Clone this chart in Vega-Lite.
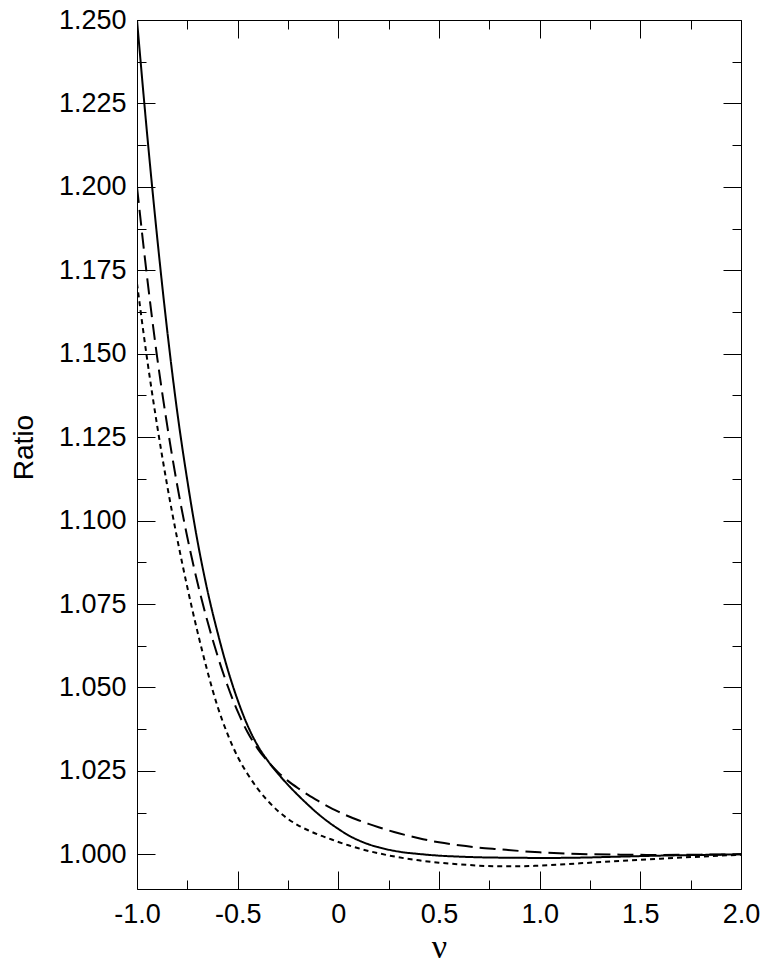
{
  "$schema": "https://vega.github.io/schema/vega-lite/v6.json",
  "width": 604,
  "height": 869,
  "autosize": {"type": "none"},
  "padding": {"left": 137, "top": 20, "right": 19, "bottom": 79},
  "background": "white",
  "config": {
    "view": {"stroke": "black", "strokeWidth": 1},
    "axis": {"grid": false, "domain": false, "tickColor": "black", "tickWidth": 1, "labelFont": "Liberation Sans", "labelFontSize": 27, "labelColor": "black", "titleColor": "black"}
  },
  "datasets": {
    "curves": [
      {"nu": -1.00, "ratio": 1.2500, "series": "A"},
      {"nu": -0.95, "ratio": 1.2160, "series": "A"},
      {"nu": -0.90, "ratio": 1.1850, "series": "A"},
      {"nu": -0.85, "ratio": 1.1570, "series": "A"},
      {"nu": -0.80, "ratio": 1.1325, "series": "A"},
      {"nu": -0.75, "ratio": 1.1120, "series": "A"},
      {"nu": -0.70, "ratio": 1.0940, "series": "A"},
      {"nu": -0.65, "ratio": 1.0790, "series": "A"},
      {"nu": -0.60, "ratio": 1.0665, "series": "A"},
      {"nu": -0.55, "ratio": 1.0555, "series": "A"},
      {"nu": -0.50, "ratio": 1.0462, "series": "A"},
      {"nu": -0.45, "ratio": 1.0385, "series": "A"},
      {"nu": -0.40, "ratio": 1.0325, "series": "A"},
      {"nu": -0.35, "ratio": 1.0280, "series": "A"},
      {"nu": -0.30, "ratio": 1.0242, "series": "A"},
      {"nu": -0.25, "ratio": 1.0208, "series": "A"},
      {"nu": -0.20, "ratio": 1.0177, "series": "A"},
      {"nu": -0.15, "ratio": 1.0148, "series": "A"},
      {"nu": -0.10, "ratio": 1.0121, "series": "A"},
      {"nu": -0.05, "ratio": 1.0097, "series": "A"},
      {"nu": 0.00, "ratio": 1.0076, "series": "A"},
      {"nu": 0.05, "ratio": 1.0057, "series": "A"},
      {"nu": 0.10, "ratio": 1.0042, "series": "A"},
      {"nu": 0.15, "ratio": 1.0030, "series": "A"},
      {"nu": 0.20, "ratio": 1.0021, "series": "A"},
      {"nu": 0.30, "ratio": 1.0008, "series": "A"},
      {"nu": 0.40, "ratio": 1.0001, "series": "A"},
      {"nu": 0.50, "ratio": 0.9996, "series": "A"},
      {"nu": 0.60, "ratio": 0.9993, "series": "A"},
      {"nu": 0.70, "ratio": 0.9991, "series": "A"},
      {"nu": 0.80, "ratio": 0.9990, "series": "A"},
      {"nu": 0.90, "ratio": 0.99895, "series": "A"},
      {"nu": 1.00, "ratio": 0.9989, "series": "A"},
      {"nu": 1.20, "ratio": 0.9990, "series": "A"},
      {"nu": 1.40, "ratio": 0.9993, "series": "A"},
      {"nu": 1.60, "ratio": 0.9996, "series": "A"},
      {"nu": 1.80, "ratio": 0.9998, "series": "A"},
      {"nu": 2.00, "ratio": 1.0000, "series": "A"},

      {"nu": -1.00, "ratio": 1.2000, "series": "B"},
      {"nu": -0.95, "ratio": 1.1730, "series": "B"},
      {"nu": -0.90, "ratio": 1.1490, "series": "B"},
      {"nu": -0.85, "ratio": 1.1285, "series": "B"},
      {"nu": -0.80, "ratio": 1.1105, "series": "B"},
      {"nu": -0.75, "ratio": 1.0950, "series": "B"},
      {"nu": -0.70, "ratio": 1.0815, "series": "B"},
      {"nu": -0.65, "ratio": 1.0698, "series": "B"},
      {"nu": -0.60, "ratio": 1.0595, "series": "B"},
      {"nu": -0.55, "ratio": 1.0505, "series": "B"},
      {"nu": -0.50, "ratio": 1.0428, "series": "B"},
      {"nu": -0.45, "ratio": 1.0365, "series": "B"},
      {"nu": -0.40, "ratio": 1.0316, "series": "B"},
      {"nu": -0.35, "ratio": 1.0278, "series": "B"},
      {"nu": -0.30, "ratio": 1.0246, "series": "B"},
      {"nu": -0.25, "ratio": 1.0220, "series": "B"},
      {"nu": -0.20, "ratio": 1.0198, "series": "B"},
      {"nu": -0.15, "ratio": 1.0178, "series": "B"},
      {"nu": -0.10, "ratio": 1.0160, "series": "B"},
      {"nu": -0.05, "ratio": 1.0143, "series": "B"},
      {"nu": 0.00, "ratio": 1.0128, "series": "B"},
      {"nu": 0.05, "ratio": 1.0114, "series": "B"},
      {"nu": 0.10, "ratio": 1.0102, "series": "B"},
      {"nu": 0.15, "ratio": 1.0091, "series": "B"},
      {"nu": 0.20, "ratio": 1.0081, "series": "B"},
      {"nu": 0.30, "ratio": 1.0063, "series": "B"},
      {"nu": 0.40, "ratio": 1.0048, "series": "B"},
      {"nu": 0.50, "ratio": 1.0036, "series": "B"},
      {"nu": 0.60, "ratio": 1.0027, "series": "B"},
      {"nu": 0.70, "ratio": 1.0020, "series": "B"},
      {"nu": 0.80, "ratio": 1.0015, "series": "B"},
      {"nu": 0.90, "ratio": 1.0010, "series": "B"},
      {"nu": 1.00, "ratio": 1.0006, "series": "B"},
      {"nu": 1.20, "ratio": 1.0001, "series": "B"},
      {"nu": 1.40, "ratio": 0.9999, "series": "B"},
      {"nu": 1.60, "ratio": 0.9998, "series": "B"},
      {"nu": 1.80, "ratio": 0.9999, "series": "B"},
      {"nu": 2.00, "ratio": 1.0000, "series": "B"},

      {"nu": -1.00, "ratio": 1.1711, "series": "C"},
      {"nu": -0.95, "ratio": 1.1485, "series": "C"},
      {"nu": -0.90, "ratio": 1.1285, "series": "C"},
      {"nu": -0.85, "ratio": 1.1105, "series": "C"},
      {"nu": -0.80, "ratio": 1.0945, "series": "C"},
      {"nu": -0.75, "ratio": 1.0800, "series": "C"},
      {"nu": -0.70, "ratio": 1.0668, "series": "C"},
      {"nu": -0.65, "ratio": 1.0548, "series": "C"},
      {"nu": -0.60, "ratio": 1.0443, "series": "C"},
      {"nu": -0.55, "ratio": 1.0360, "series": "C"},
      {"nu": -0.50, "ratio": 1.0292, "series": "C"},
      {"nu": -0.45, "ratio": 1.0240, "series": "C"},
      {"nu": -0.40, "ratio": 1.0196, "series": "C"},
      {"nu": -0.35, "ratio": 1.0160, "series": "C"},
      {"nu": -0.30, "ratio": 1.0130, "series": "C"},
      {"nu": -0.25, "ratio": 1.0106, "series": "C"},
      {"nu": -0.20, "ratio": 1.0087, "series": "C"},
      {"nu": -0.15, "ratio": 1.0072, "series": "C"},
      {"nu": -0.10, "ratio": 1.0059, "series": "C"},
      {"nu": -0.05, "ratio": 1.0048, "series": "C"},
      {"nu": 0.00, "ratio": 1.0037, "series": "C"},
      {"nu": 0.05, "ratio": 1.0027, "series": "C"},
      {"nu": 0.10, "ratio": 1.0018, "series": "C"},
      {"nu": 0.15, "ratio": 1.0010, "series": "C"},
      {"nu": 0.20, "ratio": 1.0003, "series": "C"},
      {"nu": 0.30, "ratio": 0.9991, "series": "C"},
      {"nu": 0.40, "ratio": 0.9982, "series": "C"},
      {"nu": 0.50, "ratio": 0.9975, "series": "C"},
      {"nu": 0.60, "ratio": 0.9970, "series": "C"},
      {"nu": 0.70, "ratio": 0.9966, "series": "C"},
      {"nu": 0.80, "ratio": 0.9964, "series": "C"},
      {"nu": 0.90, "ratio": 0.9964, "series": "C"},
      {"nu": 1.00, "ratio": 0.9966, "series": "C"},
      {"nu": 1.20, "ratio": 0.9973, "series": "C"},
      {"nu": 1.40, "ratio": 0.9980, "series": "C"},
      {"nu": 1.60, "ratio": 0.9987, "series": "C"},
      {"nu": 1.80, "ratio": 0.9993, "series": "C"},
      {"nu": 2.00, "ratio": 0.9999, "series": "C"}
    ]
  },
  "data": {"name": "curves"},
  "layer": [
    {
      "mark": {"type": "line", "color": "black", "strokeWidth": 2, "interpolate": "monotone", "clip": true},
      "encoding": {
        "x": {
          "field": "nu", "type": "quantitative",
          "scale": {"domain": [-1, 2], "nice": false, "zero": false},
          "axis": {
            "orient": "bottom",
            "values": [-1, -0.75, -0.5, -0.25, 0, 0.25, 0.5, 0.75, 1, 1.25, 1.5, 1.75, 2],
            "tickSize": {"condition": {"test": "abs(datum.value*2 - round(datum.value*2)) < 0.001", "value": -18}, "value": -9},
            "labelPadding": 30,
            "labelExpr": "abs(datum.value*2 - round(datum.value*2)) < 0.001 ? (datum.value == 0 ? '0' : (datum.value < 0 ? '-' : '') + format(abs(datum.value), '.1f')) : ''",
            "labelFlush": false,
            "labelOverlap": false,
            "labelBound": false,
            "title": "ν",
            "titleFont": "Liberation Serif",
            "titleFontSize": 34,
            "titleFontWeight": "normal",
            "titleX": 302,
            "titleY": 68,
            "titleAlign": "center",
            "titleBaseline": "alphabetic"
          }
        },
        "y": {
          "field": "ratio", "type": "quantitative",
          "scale": {"domain": [0.9896, 1.25], "nice": false, "zero": false},
          "axis": {
            "orient": "left",
            "values": [1, 1.0125, 1.025, 1.0375, 1.05, 1.0625, 1.075, 1.0875, 1.1, 1.1125, 1.125, 1.1375, 1.15, 1.1625, 1.175, 1.1875, 1.2, 1.2125, 1.225, 1.2375, 1.25],
            "tickSize": {"condition": {"test": "abs(datum.value*40 - round(datum.value*40)) < 0.01", "value": -18}, "value": -9},
            "labelPadding": 29,
            "labelExpr": "abs(datum.value*40 - round(datum.value*40)) < 0.01 ? format(datum.value, '.3f') : ''",
            "labelFlush": false,
            "labelOverlap": false,
            "labelBound": false,
            "title": "Ratio",
            "titleFont": "Liberation Sans",
            "titleFontSize": 28,
            "titleFontWeight": "normal",
            "titleAngle": 270,
            "titleX": -105,
            "titleY": 427,
            "titleAlign": "center",
            "titleBaseline": "alphabetic"
          }
        },
        "strokeDash": {
          "field": "series", "type": "nominal",
          "scale": {"domain": ["A", "B", "C"], "range": [[1, 0], [16, 7], [5, 4]]},
          "legend": null
        }
      }
    },
    {
      "mark": {"type": "line", "opacity": 0},
      "encoding": {
        "x": {
          "field": "nu", "type": "quantitative",
          "scale": {"domain": [-1, 2], "nice": false, "zero": false},
          "axis": {
            "orient": "top",
            "values": [-1, -0.75, -0.5, -0.25, 0, 0.25, 0.5, 0.75, 1, 1.25, 1.5, 1.75, 2],
            "tickSize": {"condition": {"test": "abs(datum.value*2 - round(datum.value*2)) < 0.001", "value": -18}, "value": -9},
            "labels": false,
            "title": null
          }
        },
        "y": {
          "field": "ratio", "type": "quantitative",
          "scale": {"domain": [0.9896, 1.25], "nice": false, "zero": false},
          "axis": {
            "orient": "right",
            "values": [1, 1.0125, 1.025, 1.0375, 1.05, 1.0625, 1.075, 1.0875, 1.1, 1.1125, 1.125, 1.1375, 1.15, 1.1625, 1.175, 1.1875, 1.2, 1.2125, 1.225, 1.2375, 1.25],
            "tickSize": {"condition": {"test": "abs(datum.value*40 - round(datum.value*40)) < 0.01", "value": -18}, "value": -9},
            "labels": false,
            "title": null
          }
        },
        "detail": {"field": "series", "type": "nominal"}
      }
    }
  ],
  "resolve": {"axis": {"x": "independent", "y": "independent"}}
}
